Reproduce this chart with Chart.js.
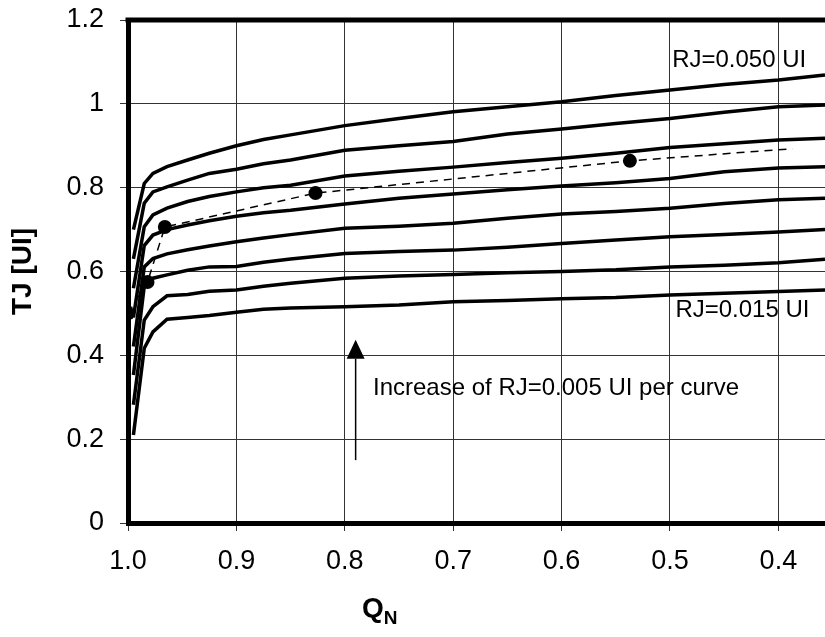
<!DOCTYPE html>
<html>
<head>
<meta charset="utf-8">
<script src="https://cdn.jsdelivr.net/npm/chart.js@4.4.0/dist/chart.umd.min.js"></script>
<style>
  html, body { margin: 0; padding: 0; background: #fff; overflow: hidden; }
</style>
</head>
<body>
<canvas id="myChart" width="825" height="637"></canvas>
<script>
// Q_N sample positions shared by all RJ curves
const qn = [0.995, 0.985, 0.977, 0.964, 0.945, 0.925, 0.9, 0.875, 0.85, 0.8, 0.75, 0.7, 0.65, 0.6, 0.55, 0.5, 0.45, 0.4, 0.357];

// TJ [UI] for RJ = 0.015 ... 0.050 UI
const tj015 = [0.210, 0.417, 0.456, 0.486, 0.490, 0.495, 0.503, 0.510, 0.513, 0.516, 0.520, 0.528, 0.531, 0.535, 0.538, 0.544, 0.548, 0.552, 0.556];
const tj020 = [0.282, 0.484, 0.516, 0.542, 0.545, 0.553, 0.556, 0.565, 0.572, 0.584, 0.589, 0.593, 0.597, 0.600, 0.604, 0.611, 0.615, 0.621, 0.629];
const tj025 = [0.353, 0.565, 0.584, 0.592, 0.603, 0.611, 0.612, 0.622, 0.630, 0.643, 0.648, 0.651, 0.658, 0.667, 0.675, 0.683, 0.688, 0.694, 0.700];
const tj030 = [0.421, 0.611, 0.631, 0.642, 0.652, 0.661, 0.671, 0.680, 0.688, 0.703, 0.708, 0.715, 0.727, 0.737, 0.743, 0.751, 0.762, 0.771, 0.775];
const tj035 = [0.490, 0.662, 0.687, 0.700, 0.711, 0.721, 0.732, 0.740, 0.746, 0.761, 0.775, 0.785, 0.795, 0.804, 0.812, 0.822, 0.838, 0.847, 0.850];
const tj040 = [0.560, 0.707, 0.735, 0.751, 0.767, 0.779, 0.790, 0.800, 0.806, 0.828, 0.839, 0.849, 0.860, 0.870, 0.882, 0.896, 0.905, 0.914, 0.918];
const tj045 = [0.630, 0.763, 0.790, 0.802, 0.818, 0.834, 0.844, 0.857, 0.866, 0.889, 0.900, 0.910, 0.928, 0.940, 0.953, 0.965, 0.980, 0.993, 0.997];
const tj050 = [0.700, 0.810, 0.834, 0.850, 0.866, 0.882, 0.900, 0.915, 0.926, 0.948, 0.965, 0.981, 0.993, 1.005, 1.020, 1.033, 1.046, 1.057, 1.069];

const curves = [tj015, tj020, tj025, tj030, tj035, tj040, tj045, tj050];

// dashed line through the marked points
const markQn = [1.0, 0.982, 0.966, 0.827, 0.537, 0.387];
const markTj = [0.500, 0.575, 0.706, 0.787, 0.864, 0.893];
const markDot = [7, 7, 7, 7, 7, 0];

const xTicks = [1.0, 0.9, 0.8, 0.7, 0.6, 0.5, 0.4];
const yTicks = [0, 0.2, 0.4, 0.6, 0.8, 1.0, 1.2];

const FONT = '"Liberation Sans", Arial, sans-serif';

let datasets = [];
for (const c of curves) {
  datasets.push({
    data: qn.map((q, i) => ({ x: q, y: c[i] })),
    borderColor: '#000',
    borderWidth: 3.5,
    pointRadius: 0,
    fill: false,
    tension: 0
  });
}
datasets.push({
  data: markQn.map((q, i) => ({ x: q, y: markTj[i] })),
  borderColor: '#000',
  borderWidth: 1.5,
  borderDash: [8, 6],
  backgroundColor: '#000',
  pointRadius: markDot,
  pointBorderWidth: 0,
  fill: false,
  tension: 0
});

// extra texts, arrow, top frame and the Q_N title
const extras = {
  id: 'extras',
  afterDatasetsDraw(chart) {
    const { ctx, chartArea, scales } = chart;
    const x = scales.x, y = scales.y;
    ctx.save();
    ctx.strokeStyle = '#000';
    ctx.lineWidth = 5;
    ctx.beginPath();
    ctx.moveTo(chartArea.left - 2.5, chartArea.top);
    ctx.lineTo(chartArea.right + 5, chartArea.top);
    ctx.stroke();

    ctx.fillStyle = '#000';
    ctx.font = '24px ' + FONT;
    ctx.textBaseline = 'middle';
    ctx.textAlign = 'left';
    ctx.fillText('RJ=0.050 UI', x.getPixelForValue(0.498), y.getPixelForValue(1.103));
    ctx.fillText('RJ=0.015 UI', x.getPixelForValue(0.495), y.getPixelForValue(0.508));
    ctx.fillText('Increase of RJ=0.005 UI per curve', x.getPixelForValue(0.774), y.getPixelForValue(0.32));

    // arrow
    const ax = x.getPixelForValue(0.79);
    const yTip = y.getPixelForValue(0.437);
    const yBase = y.getPixelForValue(0.392);
    ctx.lineWidth = 1.5;
    ctx.beginPath();
    ctx.moveTo(ax, y.getPixelForValue(0.15));
    ctx.lineTo(ax, yBase);
    ctx.stroke();
    ctx.beginPath();
    ctx.moveTo(ax, yTip);
    ctx.lineTo(ax - 9, yBase);
    ctx.lineTo(ax + 9, yBase);
    ctx.closePath();
    ctx.fill();

    // x title with subscript
    ctx.textBaseline = 'alphabetic';
    ctx.font = 'bold 28px ' + FONT;
    ctx.fillText('Q', 362, 617);
    const qw = ctx.measureText('Q').width;
    ctx.font = 'bold 19px ' + FONT;
    ctx.fillText('N', 362 + qw, 624);
    ctx.restore();
  }
};

const ctx = document.getElementById('myChart');

new Chart(ctx, {
  type: 'line',
  data: { datasets: datasets },
  options: {
    responsive: false,
    animation: false,
    devicePixelRatio: 1,
    layout: { autoPadding: false, padding: { top: 20, right: 0, bottom: 0, left: 0 } },
    plugins: {
      legend: { display: false },
      tooltip: { enabled: false }
    },
    scales: {
      x: {
        type: 'linear',
        reverse: true,
        min: 0.357,
        max: 1.0,
        afterBuildTicks: s => { s.ticks = xTicks.map(v => ({ value: v })); },
        afterFit: s => { s.height = 114; s.paddingLeft = 0; s.paddingRight = 0; },
        ticks: {
          callback: v => v.toFixed(1),
          font: { family: FONT, size: 27 },
          color: '#000',
          padding: 14,
          maxRotation: 0,
          autoSkip: false
        },
        grid: { color: '#333', lineWidth: 1, tickLength: 8 },
        border: { display: true, color: '#000', width: 5 }
      },
      y: {
        type: 'linear',
        min: 0,
        max: 1.2,
        afterBuildTicks: s => { s.ticks = yTicks.map(v => ({ value: v })); },
        afterFit: s => { s.width = 128; s.paddingTop = 0; s.paddingBottom = 0; },
        ticks: {
          callback: v => String(Math.round(v * 10) / 10),
          font: { family: FONT, size: 27 },
          color: '#000',
          padding: 16
        },
        grid: { color: '#333', lineWidth: 1, tickLength: 8 },
        border: { display: true, color: '#000', width: 5 },
        title: {
          display: true,
          text: 'TJ [UI]',
          color: '#000',
          font: { family: FONT, size: 28, weight: 'bold' },
          padding: { top: 6, bottom: 0 }
        }
      }
    }
  },
  plugins: [extras]
});
</script>
</body>
</html>
